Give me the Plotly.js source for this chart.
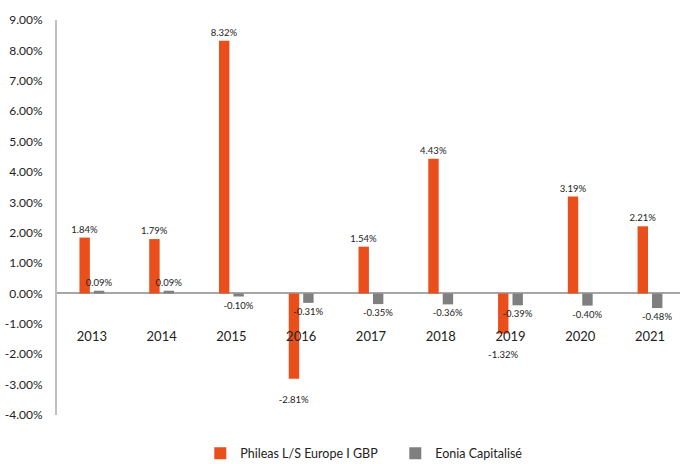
<!DOCTYPE html>
<html>
<head>
<meta charset="utf-8">
<script src="https://cdn.plot.ly/plotly-3.0.1.min.js"></script>
<style>html,body{margin:0;padding:0;background:#fff;}#chart{width:680px;height:464px;}</style>
</head>
<body>
<div id="chart"></div>
<script>
const years = ["2013","2014","2015","2016","2017","2018","2019","2020","2021"];
const phileas = [1.84, 1.79, 8.32, -2.81, 1.54, 4.43, -1.32, 3.19, 2.21];
const eonia = [0.09, 0.09, -0.10, -0.31, -0.35, -0.36, -0.39, -0.40, -0.48];
const seriesNames = ["Phileas L/S Europe I GBP", "Eonia Capitalisé"];
const yTicks = [-4,-3,-2,-1,0,1,2,3,4,5,6,7,8,9];

const FONT = "Lato, 'Liberation Sans', sans-serif";
const fmt = v => v.toFixed(2) + "%";
// negative Phileas labels sit a little further below the bar end, as in the reference
const fmtOrange = v => (v < 0 ? " <br>" : "") + fmt(v);

const traces = [
  {type:"bar", name:seriesNames[0], x:years, y:phileas,
   marker:{color:"#E94E1B"}, text:phileas.map(fmtOrange), textposition:"outside",
   textangle:0, constraintext:"none", cliponaxis:false,
   textfont:{family:FONT, size:9.5, color:"#222"}, hoverinfo:"x+y"},
  {type:"bar", name:seriesNames[1], x:years, y:eonia,
   marker:{color:"#7F7F7F"}, text:eonia.map(fmt), textposition:"outside",
   textangle:0, constraintext:"none", cliponaxis:false,
   textfont:{family:FONT, size:9.5, color:"#222"}, hoverinfo:"x+y"}
];

const layout = {
  width:680, height:464,
  margin:{l:57, r:0, t:20, b:49, autoexpand:false},
  paper_bgcolor:"#fff", plot_bgcolor:"#fff",
  font:{family:FONT, size:12, color:"#222"},
  barmode:"group", bargap:0.586, bargroupgap:0.28,
  showlegend:true,
  legend:{orientation:"h", x:0.23, xanchor:"left", y:-0.06, yanchor:"top",
          font:{family:FONT, size:12.5, color:"#222"}, entrywidth:150, entrywidthmode:"pixels",
          traceorder:"normal", bgcolor:"rgba(0,0,0,0)"},
  xaxis:{type:"category", anchor:"free", position:4/13, range:[-0.5, 8.43],
         showline:false, showgrid:false, zeroline:false, ticks:"", ticklabelstandoff:34,
         tickfont:{family:FONT, size:13, color:"#222"}, fixedrange:true},
  yaxis:{range:[-4,9], tickvals:yTicks, ticktext:yTicks.map(v=>v.toFixed(2)+"%"),
         showgrid:false, zeroline:true, zerolinecolor:"#A6A6A6", zerolinewidth:2,
         showline:true, linecolor:"#BFBFBF", linewidth:2, ticks:"", ticklabelstandoff:10,
         tickfont:{family:FONT, size:12, color:"#222"}, fixedrange:true}
};

Plotly.newPlot("chart", traces, layout, {displayModeBar:false, staticPlot:true});
</script>
</body>
</html>
